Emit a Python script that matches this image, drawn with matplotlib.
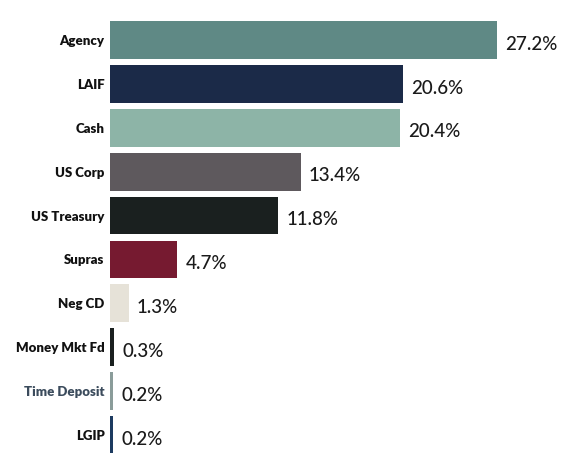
import matplotlib
matplotlib.use("Agg")
import matplotlib.pyplot as plt

# Portfolio allocation by security type
categories = ["Agency", "LAIF", "Cash", "US Corp", "US Treasury", "Supras",
              "Neg CD", "Money Mkt Fd", "Time Deposit", "LGIP"]
shares = [27.2, 20.6, 20.4, 13.4, 11.8, 4.7, 1.3, 0.3, 0.2, 0.2]
colors = ["#5f8985", "#1b2a48", "#8db4a7", "#5e595d", "#1a201f", "#761a30",
          "#e6e2d8", "#1a201f", "#8a9c9a", "#1d3b60"]
label_colors = ["#111111"] * 8 + ["#3b4b5c", "#111111"]

plt.rcParams["font.family"] = ["Lato", "DejaVu Sans"]

fig = plt.figure(figsize=(5.62, 4.53), dpi=100)
ax = fig.add_axes([0.196, 0.0, 0.804, 1.0])

ypos = list(range(len(categories)))
bars = ax.barh(ypos, shares, height=0.86, color=colors)

for bar, v in zip(bars, shares):
    ax.annotate(f"{v:.1f}%", (bar.get_width(), bar.get_y() + bar.get_height() / 2),
                xytext=(6, -3), textcoords="offset points", va="center", ha="left",
                fontsize=13.5, fontweight="medium", color="#1a1a1a")

ax.set_yticks(ypos)
ax.set_yticklabels(categories, fontsize=9.5, fontweight="heavy")
for lbl, c in zip(ax.get_yticklabels(), label_colors):
    lbl.set_color(c)
ax.tick_params(axis="y", length=0, pad=4)
ax.set_xticks([])
ax.set_xlim(0, 31.8)
ax.set_ylim(9.41, -0.91)
for s in ax.spines.values():
    s.set_visible(False)

fig.savefig("out.png", dpi=100)
